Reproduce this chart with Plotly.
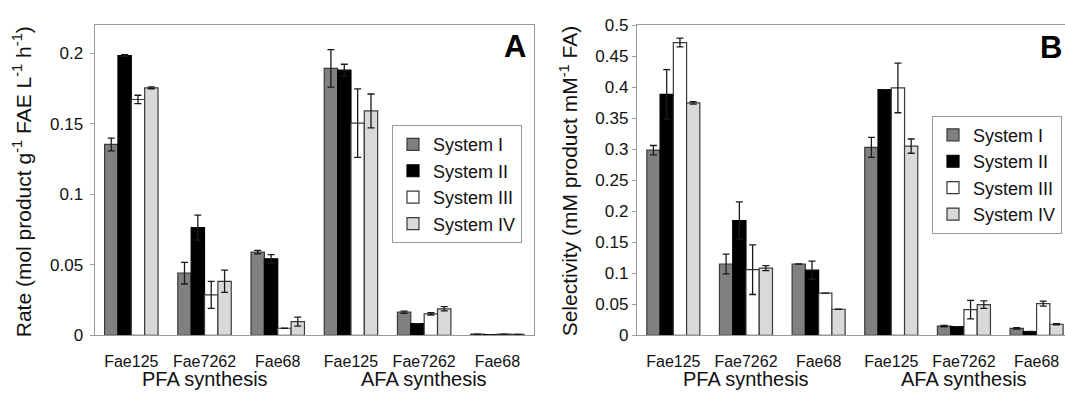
import plotly.graph_objects as go

# ---------------- data ----------------
categories = ["Fae125", "Fae7262", "Fae68", "Fae125", "Fae7262", "Fae68"]
group_labels = ["PFA synthesis", "AFA synthesis"]
group_centers = [1, 4]
series_names = ["System I", "System II", "System III", "System IV"]

# Panel A: Rate (mol product g-1 FAE L-1 h-1)
rate_sys1 = [0.1354, 0.0441, 0.0590, 0.1894, 0.0164, 0.0008]
rate_sys2 = [0.1985, 0.0764, 0.0543, 0.1881, 0.0083, 0.0005]
rate_sys3 = [0.1673, 0.0287, 0.0050, 0.1505, 0.0152, 0.0008]
rate_sys4 = [0.1756, 0.0383, 0.0097, 0.1592, 0.0188, 0.0006]
rate_err1 = [0.0045, 0.0077, 0.0012, 0.0133, 0.0008, 0.0]
rate_err2 = [0.0006, 0.0088, 0.0030, 0.0042, 0.0, 0.0]
rate_err3 = [0.0030, 0.0096, 0.0, 0.0243, 0.0008, 0.0]
rate_err4 = [0.0007, 0.0079, 0.0032, 0.0120, 0.0015, 0.0]
rate_ticks = [0, 0.05, 0.1, 0.15, 0.2]
rate_ticktext = ["0", "0.05", "0.1", "0.15", "0.2"]

# Panel B: Selectivity (mM product mM-1 FA)
sel_sys1 = [0.2985, 0.1150, 0.1150, 0.3030, 0.0148, 0.0112]
sel_sys2 = [0.3885, 0.1850, 0.1050, 0.3960, 0.0140, 0.0061]
sel_sys3 = [0.4720, 0.1058, 0.0680, 0.3988, 0.0414, 0.0510]
sel_sys4 = [0.3747, 0.1083, 0.0420, 0.3050, 0.0495, 0.0178]
sel_err1 = [0.0075, 0.0160, 0.0, 0.0160, 0.0010, 0.0010]
sel_err2 = [0.0400, 0.0300, 0.0146, 0.0, 0.0, 0.0]
sel_err3 = [0.0070, 0.0400, 0.0, 0.0400, 0.0150, 0.0040]
sel_err4 = [0.0020, 0.0040, 0.0, 0.0115, 0.0060, 0.0010]
sel_ticks = [0, 0.05, 0.1, 0.15, 0.2, 0.25, 0.3, 0.35, 0.4, 0.45, 0.5]
sel_ticktext = ["0", "0.05", "0.1", "0.15", "0.2", "0.25", "0.3", "0.35", "0.4", "0.45", "0.5"]

# ---------------- style ----------------
W, H = 1065, 397
FONT = "Liberation Sans, Arial, sans-serif"
fills = ["#808080", "#000000", "#ffffff", "#d9d9d9"]
edges = ["#3a3a3a", "#000000", "#3a3a3a", "#3a3a3a"]
frame = "#9a9a9a"
txt = "#111111"

xpos = list(range(len(categories)))

def px(x):
    return x / W

def py(y):
    return 1 - y / H

fig = go.Figure()

rate_vals = [rate_sys1, rate_sys2, rate_sys3, rate_sys4]
rate_errs = [rate_err1, rate_err2, rate_err3, rate_err4]
sel_vals = [sel_sys1, sel_sys2, sel_sys3, sel_sys4]
sel_errs = [sel_err1, sel_err2, sel_err3, sel_err4]

for i, name in enumerate(series_names):
    fig.add_trace(go.Bar(
        x=xpos, y=rate_vals[i], name=name,
        marker=dict(color=fills[i], line=dict(color=edges[i], width=1.2)),
        error_y=dict(type="data", array=rate_errs[i], color="#1a1a1a", thickness=1.3, width=3.5),
        xaxis="x", yaxis="y", legend="legend",
    ))
for i, name in enumerate(series_names):
    fig.add_trace(go.Bar(
        x=xpos, y=sel_vals[i], name=name,
        marker=dict(color=fills[i], line=dict(color=edges[i], width=1.2)),
        error_y=dict(type="data", array=sel_errs[i], color="#1a1a1a", thickness=1.3, width=3.5),
        xaxis="x2", yaxis="y2", legend="legend2",
    ))

axis_common = dict(showgrid=False, zeroline=False, showline=True, linecolor=frame, linewidth=1.3)
tick_font = dict(size=17, family=FONT, color=txt)
cat_font = dict(size=16, family=FONT, color=txt)
leg_font = dict(size=18, family=FONT, color=txt)

fig.update_layout(
    width=W, height=H,
    margin=dict(l=0, r=0, t=0, b=0),
    paper_bgcolor="white", plot_bgcolor="white",
    barmode="group", bargap=0.27, bargroupgap=0,
    font=dict(family=FONT, color=txt, size=16),
    xaxis=dict(domain=[px(94.7), px(534)], range=[-0.5, 5.5], tickvals=xpos, ticktext=categories,
               ticks="outside", ticklen=11, tickcolor="rgba(0,0,0,0)", mirror=True,
               tickfont=cat_font, anchor="y", **axis_common),
    yaxis=dict(domain=[py(342.7), py(17)], range=[0, 0.22], tickvals=rate_ticks, ticktext=rate_ticktext,
               ticks="outside", ticklen=4, tickcolor=frame, mirror=True, ticklabelstandoff=3,
               tickfont=tick_font, anchor="x", **axis_common),
    xaxis2=dict(domain=[px(637), 1.0], range=[-0.5, 5.391], tickvals=xpos, ticktext=categories,
                ticks="outside", ticklen=11, tickcolor="rgba(0,0,0,0)", mirror=True,
                tickfont=cat_font, anchor="y2", **axis_common),
    yaxis2=dict(domain=[py(342.7), py(17)], range=[0, 0.5], tickvals=sel_ticks, ticktext=sel_ticktext,
                ticks="outside", ticklen=4, tickcolor=frame, mirror=False,
                tickfont=tick_font, anchor="x2", **axis_common),
    legend=dict(x=px(392), y=py(122), xanchor="left", yanchor="top",
                bordercolor=frame, borderwidth=1, bgcolor="white",
                font=leg_font, itemwidth=30, tracegroupgap=0),
    legend2=dict(x=px(932), y=py(112), xanchor="left", yanchor="top",
                 bordercolor=frame, borderwidth=1, bgcolor="white",
                 font=leg_font, itemwidth=30, tracegroupgap=0),
    showlegend=True,
)

annotations = []
for gl, gc in zip(group_labels, group_centers):
    for ax in ("x", "x2"):
        annotations.append(dict(text=gl, x=gc, xref=ax, y=py(389), yref="paper",
                                showarrow=False, xanchor="center", yanchor="middle",
                                font=dict(size=20, family=FONT, color=txt)))
annotations.append(dict(text="<b>A</b>", x=px(515), y=py(39), xref="paper", yref="paper",
                        showarrow=False, xanchor="center", yanchor="middle",
                        font=dict(size=31, family=FONT, color="#000")))
annotations.append(dict(text="<b>B</b>", x=px(1064), y=py(40), xref="paper", yref="paper",
                        showarrow=False, xanchor="right", yanchor="middle",
                        font=dict(size=31, family=FONT, color="#000")))
annotations.append(dict(text="Rate (mol product g<sup>-1</sup> FAE L<sup>-1</sup> h<sup>-1</sup>)",
                        x=px(22), y=py(182), xref="paper", yref="paper", textangle=-90,
                        showarrow=False, xanchor="center", yanchor="middle",
                        font=dict(size=21, family=FONT, color=txt)))
annotations.append(dict(text="Selectivity (mM product mM<sup>-1</sup> FA)",
                        x=px(569), y=py(181), xref="paper", yref="paper", textangle=-90,
                        showarrow=False, xanchor="center", yanchor="middle",
                        font=dict(size=21, family=FONT, color=txt)))
fig.update_layout(annotations=annotations)

fig.write_html("out.html")
